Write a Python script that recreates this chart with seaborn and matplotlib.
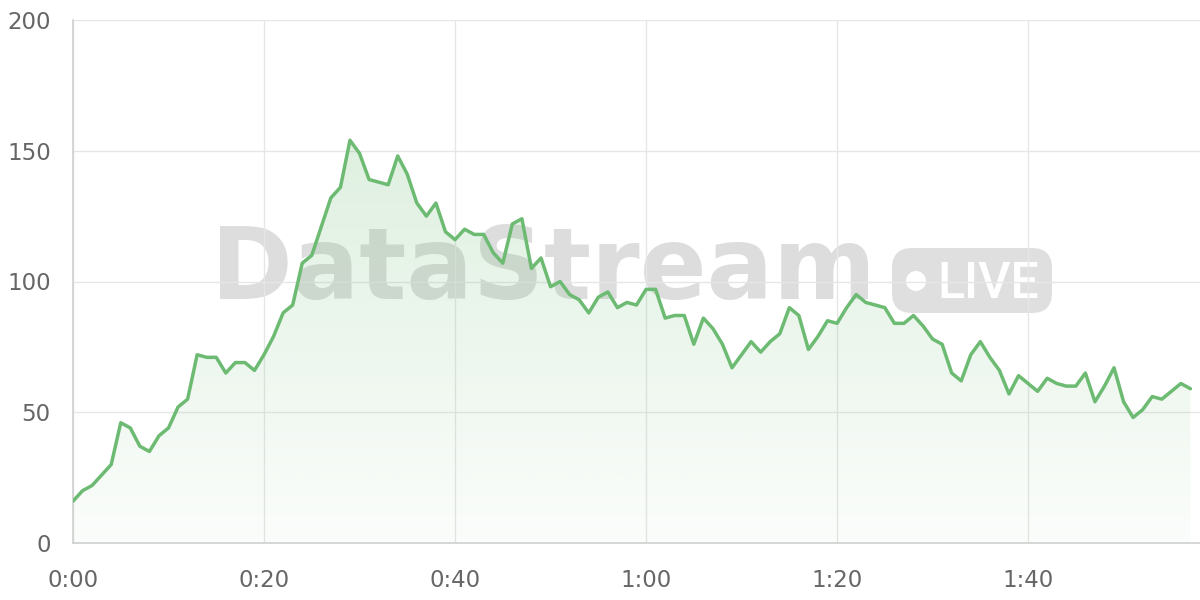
import numpy as np
import matplotlib
matplotlib.use('Agg')
import matplotlib.pyplot as plt
import seaborn as sns
from matplotlib.patches import FancyBboxPatch, Circle, Polygon
from matplotlib.transforms import IdentityTransform

# minutes since start
minutes = list(range(118))
viewers = [
    16, 20, 22, 26, 30, 46, 44, 37, 35, 41,
    44, 52, 55, 72, 71, 71, 65, 69, 69, 66,
    72, 79, 88, 91, 107, 110, 121, 132, 136, 154,
    149, 139, 138, 137, 148, 141, 130, 125, 130, 119,
    116, 120, 118, 118, 111, 107, 122, 124, 105, 109,
    98, 100, 95, 93, 88, 94, 96, 90, 92, 91,
    97, 97, 86, 87, 87, 76, 86, 82, 76, 67,
    72, 77, 73, 77, 80, 90, 87, 74, 79, 85,
    84, 90, 95, 92, 91, 90, 84, 84, 87, 83,
    78, 76, 65, 62, 72, 77, 71, 66, 57, 64,
    61, 58, 63, 61, 60, 60, 65, 54, 60, 67,
    54, 48, 51, 56, 55, 58, 61, 59,
]
x_ticks = [0, 20, 40, 60, 80, 100]
x_tick_labels = ['0:00', '0:20', '0:40', '1:00', '1:20', '1:40']
y_ticks = [0, 50, 100, 150, 200]

LINE = '#6dbb73'
GRID = '#e6e6e6'
AXIS = '#d0d0d0'
LABEL = '#666666'

sns.set_style('white')
plt.rcParams['font.family'] = ['DejaVu Sans']

fig = plt.figure(figsize=(12, 6), dpi=100)
ax = fig.add_axes([73 / 1200, 57 / 600, 1127 / 1200, 523 / 600])
ax.set_axisbelow(True)

# gradient fill under the line
grad = np.linspace(0.03, 0.28, 256).reshape(-1, 1)
rgba = np.zeros((256, 1, 4))
rgba[..., :3] = matplotlib.colors.to_rgb(LINE)
rgba[..., 3] = grad
img = ax.imshow(rgba, extent=[0, minutes[-1], 0, 200], origin='lower',
                aspect='auto', zorder=1, interpolation='bilinear')
verts = [(minutes[0], 0)] + list(zip(minutes, viewers)) + [(minutes[-1], 0)]
clip = Polygon(verts, closed=True, transform=ax.transData, facecolor='none', edgecolor='none')
ax.add_patch(clip)
img.set_clip_path(clip)

sns.lineplot(x=minutes, y=viewers, color=LINE, linewidth=2.5, ax=ax, zorder=3)

# watermark
ident = IdentityTransform()
ax.text(211, 600 - 299, 'DataStream', transform=ident, fontsize=71, fontweight='bold',
        family='DejaVu Sans', color='#a8a8a8', alpha=0.38, ha='left', va='baseline', zorder=0.3)
pill = FancyBboxPatch((892, 287), 160, 65, boxstyle='round,pad=0,rounding_size=20',
                      transform=ident, facecolor='#a8a8a8', alpha=0.36, edgecolor='none',
                      zorder=0.3, clip_on=False)
ax.add_artist(pill)
ax.add_artist(Circle((916, 319), 10, transform=ident, facecolor='white', edgecolor='none',
                     zorder=0.35, clip_on=False))
ax.text(937, 600 - 298, 'LIVE', transform=ident, fontsize=36, family='Roboto',
        fontweight='medium', color='white', ha='left', va='baseline', zorder=0.35)

ax.set_xlim(0, 118)
ax.set_ylim(0, 200)
ax.set_xticks(x_ticks)
ax.set_xticklabels(x_tick_labels)
ax.set_yticks(y_ticks)
ax.grid(True, color=GRID, linewidth=1)
ax.tick_params(axis='both', length=11, width=1, color=GRID, labelcolor=LABEL, labelsize=16.5)
ax.tick_params(axis='y', pad=5)
ax.tick_params(axis='x', pad=8)
for side in ['top', 'right']:
    ax.spines[side].set_visible(False)
for side in ['left', 'bottom']:
    ax.spines[side].set_color(AXIS)
    ax.spines[side].set_linewidth(1.2)
ax.set_xlabel('')
ax.set_ylabel('')

fig.savefig('out.png', dpi=100)
